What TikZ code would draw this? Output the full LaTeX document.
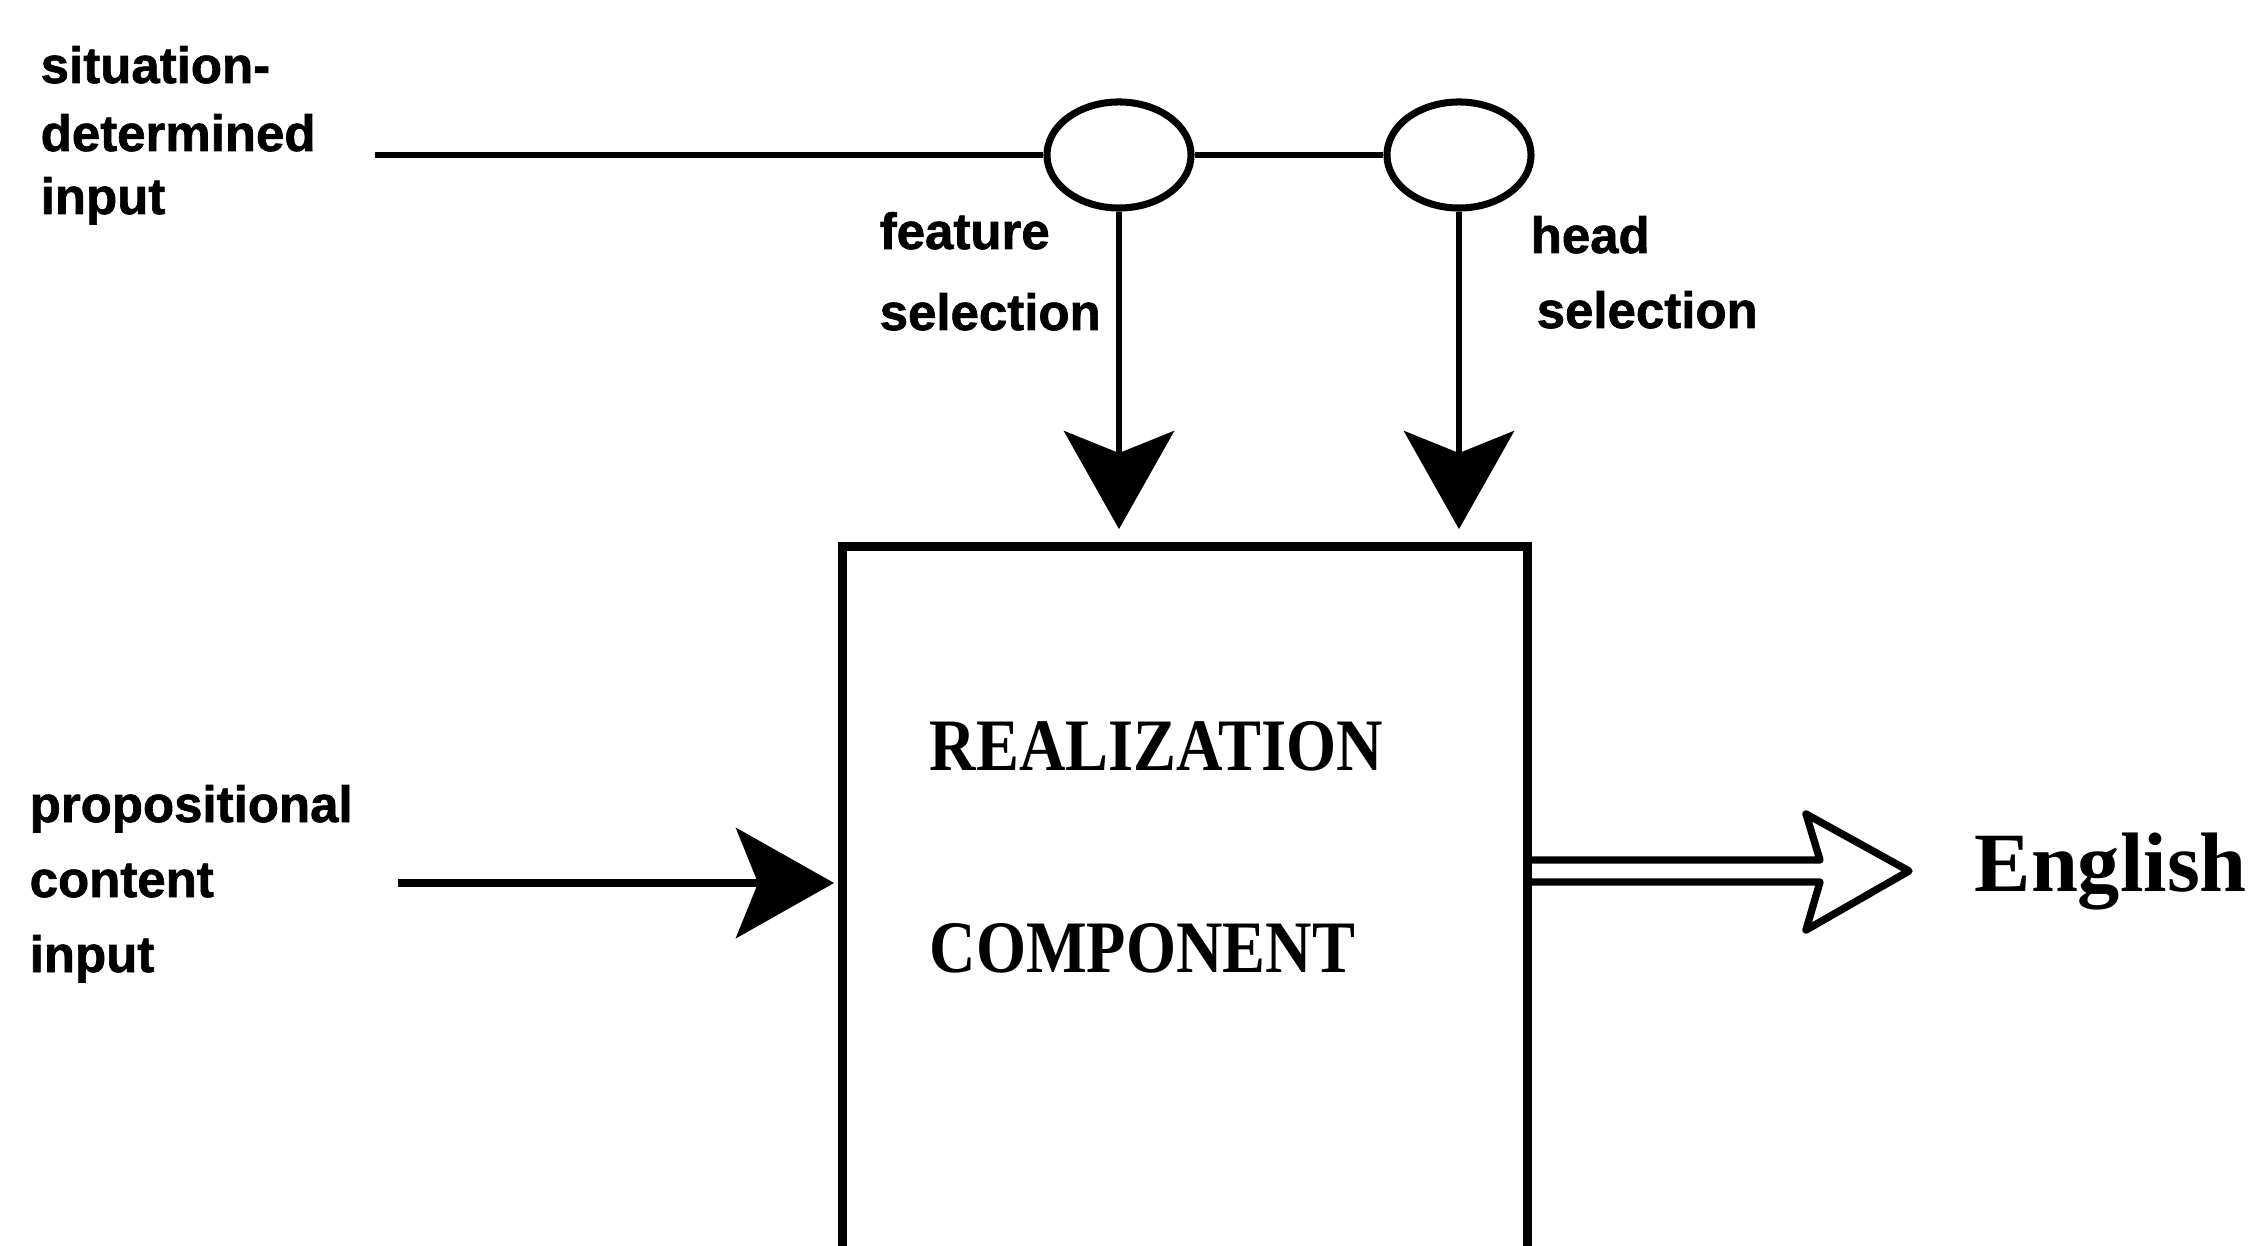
\documentclass[tikz,border=0pt]{standalone}
\usepackage{fontspec}
\setmainfont{Liberation Serif}
\newfontfamily\labfont[BoldFeatures={FakeBold=1.3}]{Liberation Sans}
\usetikzlibrary{arrows.meta,shapes.geometric,calc}
\tikzset{
  lbl/.style={font=\labfont\bfseries\fontsize{14.5}{17}\selectfont, inner sep=0pt, anchor=base west},
  boxtext/.style={font=\bfseries\fontsize{18.3}{22}\selectfont, inner sep=0pt, anchor=west},
  sel/.style={ellipse, draw, line width=2pt, minimum width=1.44cm, minimum height=1.06cm, inner sep=0pt},
  conn/.style={line width=1.8pt},
  arr/.style={line width=1.8pt, -{Stealth[length=0.98cm,width=1.1cm,inset=0.22cm]}},
}
\begin{document}
\begin{tikzpicture}[x=0.01cm,y=-0.01cm]
\useasboundingbox (0,0) rectangle (2260,1246);
% labels top-left
\node[lbl] (s1) at (40,83) {situation-};
\node[lbl] (s2) at (40,151) {determined};
\node[lbl] (s3) at (40,214) {input};
% labels left
\node[lbl] (p1) at (29,822) {propositional};
\node[lbl] (p2) at (29,897) {content};
\node[lbl] (p3) at (29,972) {input};
% selection ellipses
\node[sel] (e1) at (1119,155) {};
\node[sel] (e2) at (1459,155) {};
\coordinate (sitstart) at (375,155);
\draw[conn] (sitstart) -- (e1.west);
\draw[conn] (e1.east) -- (e2.west);
% labels for selections
\node[lbl] (f1) at (879,249) {feature};
\node[lbl] (f2) at (879,330) {selection};
\node[lbl] (h1) at (1530,253) {head};
\node[lbl] (h2) at (1536,328) {selection};
% realization box
\node[minimum width=6.84cm, minimum height=7.01cm, inner sep=0pt] (box) at (1185,897.5) {};
\draw[line width=2.6pt] (box.south west) -- (box.north west) -- (box.north east) -- (box.south east);
\node[boxtext] (r1) at (929,746) {\scalebox{1}[1.15]{REALIZATION}};
\node[boxtext] (r2) at (929,948) {\scalebox{1}[1.15]{COMPONENT}};
% arrows into box
\draw[arr, shorten >=0.17cm] (e1.south) -- (e1.south |- box.north);
\draw[arr, shorten >=0.17cm] (e2.south) -- (e2.south |- box.north);
\coordinate (pstart) at (398,883);
\draw[arr, line width=2.2pt, shorten >=0.08cm] (pstart) -- (pstart -| box.west);
% output double arrow
\node[font=\bfseries\fontsize{24}{28}\selectfont, inner sep=0pt, anchor=west] (eng) at (1974,872) {English};
\draw[line width=2.1pt, line join=round]
  ($(box.east |- 0,860)+(2,0)$) -- (1820,860) -- (1806,814) -- (1909,871)
  -- (1806,930) -- (1820,882) -- ($(box.east |- 0,882)+(2,0)$);
\end{tikzpicture}
\end{document}
